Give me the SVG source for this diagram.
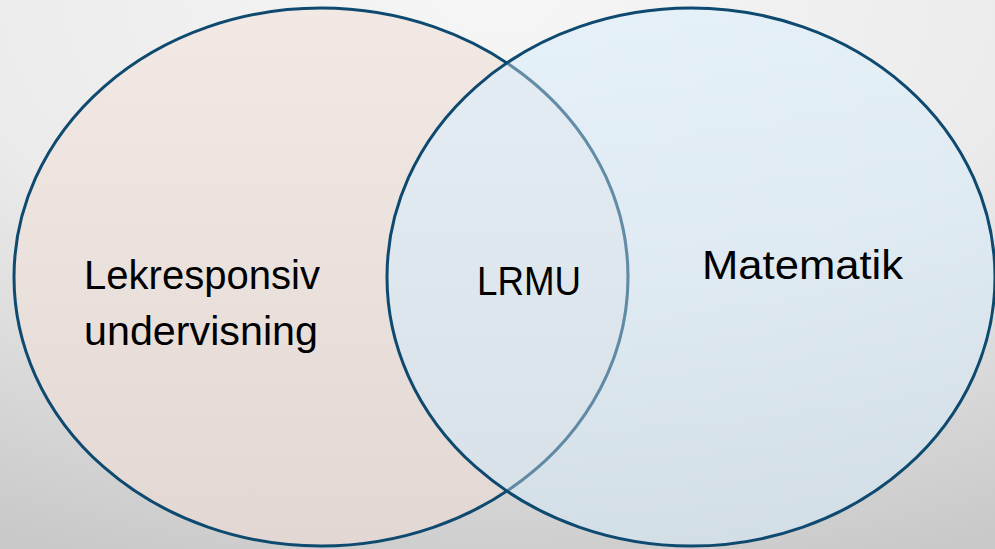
<svg xmlns="http://www.w3.org/2000/svg" width="995" height="549" viewBox="0 0 995 549">
  <defs>
    <radialGradient id="bg" cx="50%" cy="0%" r="110%" fx="50%" fy="0%">
      <stop offset="0" stop-color="#f6f6f6"/>
      <stop offset="0.5" stop-color="#ebebeb"/>
      <stop offset="1" stop-color="#c8c8c8"/>
    </radialGradient>
    <linearGradient id="leftFill" x1="0" y1="0" x2="0" y2="1">
      <stop offset="0" stop-color="#f2e9e5"/>
      <stop offset="1" stop-color="#e2d7d3"/>
    </linearGradient>
    <linearGradient id="rightFill" x1="0" y1="0" x2="0" y2="1">
      <stop offset="0" stop-color="#e0eff9"/>
      <stop offset="1" stop-color="#d4e3ee"/>
    </linearGradient>
    <style>
      .circle { stroke: #0e4a6f; stroke-width: 3; }
      .label { font-family: "Liberation Sans", "DejaVu Sans", sans-serif; font-size: 40px; fill: #000000; }
    </style>
  </defs>
  <rect x="0" y="0" width="995" height="549" fill="url(#bg)"/>
  <g id="set-left">
    <ellipse class="circle" cx="321" cy="277" rx="307" ry="269" fill="url(#leftFill)"/>
    <text class="label" x="84" y="289" textLength="236" lengthAdjust="spacingAndGlyphs">Lekresponsiv</text>
    <text class="label" x="84" y="345" textLength="234" lengthAdjust="spacingAndGlyphs">undervisning</text>
  </g>
  <g id="set-right">
    <ellipse cx="691" cy="277" rx="304" ry="269" fill="url(#rightFill)" fill-opacity="0.75"/>
    <ellipse class="circle" cx="691" cy="277" rx="304" ry="269" fill="none"/>
    <path d="M507 63 A307 269 0 0 1 507 491" fill="none" stroke="#0e4a6f" stroke-width="3" stroke-opacity="0.45"/>
    <text class="label" x="702" y="279" textLength="201" lengthAdjust="spacingAndGlyphs">Matematik</text>
  </g>
  <g id="intersection">
    <text class="label" x="477" y="295" textLength="104" lengthAdjust="spacingAndGlyphs">LRMU</text>
  </g>
  <g id="connectors"></g>
</svg>
